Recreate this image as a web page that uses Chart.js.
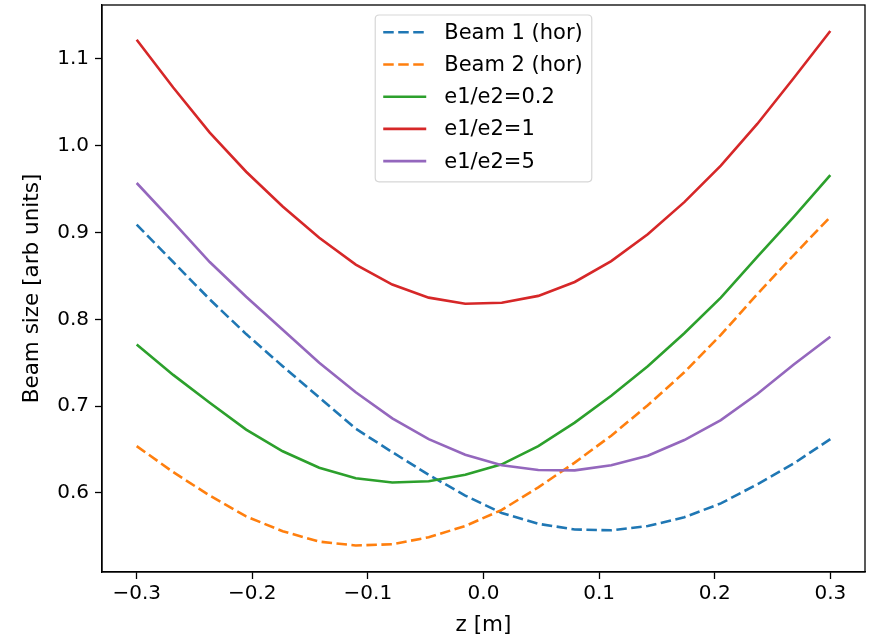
<!DOCTYPE html>
<html>
<head>
<meta charset="utf-8">
<script src="https://cdn.jsdelivr.net/npm/chart.js@4.4.1/dist/chart.umd.min.js"></script>
<style>
  html, body { margin: 0; padding: 0; background: #fff; }
  #wrap { width: 874px; height: 637px; }
</style>
</head>
<body>
<div id="wrap"><canvas id="c" width="874" height="637"></canvas></div>
<script>
// ---- data ----
const zValues = [-0.3, -0.2684, -0.2368, -0.2053, -0.1737, -0.1421, -0.1105, -0.0789, -0.0474, -0.0158,
                 0.0158, 0.0474, 0.0789, 0.1105, 0.1421, 0.1737, 0.2053, 0.2368, 0.2684, 0.3];
const beam1Hor = [0.909, 0.866, 0.823, 0.783, 0.746, 0.710, 0.674, 0.647, 0.621, 0.597,
                  0.577, 0.5645, 0.558, 0.557, 0.562, 0.572, 0.588, 0.610, 0.634, 0.662];
const beam2Hor = [0.654, 0.624, 0.597, 0.573, 0.556, 0.544, 0.5395, 0.541, 0.549, 0.562,
                  0.5805, 0.6065, 0.635, 0.666, 0.701, 0.739, 0.782, 0.829, 0.874, 0.918];
const ratio02 = [0.771, 0.736, 0.704, 0.673, 0.648, 0.629, 0.617, 0.612, 0.6135, 0.621,
                 0.633, 0.654, 0.681, 0.712, 0.746, 0.784, 0.825, 0.872, 0.918, 0.966];
const ratio1 = [1.122, 1.067, 1.015, 0.970, 0.930, 0.894, 0.863, 0.840, 0.825, 0.818,
                0.819, 0.827, 0.843, 0.867, 0.898, 0.935, 0.977, 1.025, 1.078, 1.132];
const ratio5 = [0.957, 0.912, 0.866, 0.826, 0.788, 0.750, 0.716, 0.686, 0.662, 0.644,
                0.632, 0.6265, 0.626, 0.632, 0.643, 0.661, 0.684, 0.714, 0.748, 0.780];
const seriesLabels = ['Beam 1 (hor)', 'Beam 2 (hor)', 'e1/e2=0.2', 'e1/e2=1', 'e1/e2=5'];
const xTickValues = [-0.3, -0.2, -0.1, 0.0, 0.1, 0.2, 0.3];
const xTickLabels = ['\u22120.3', '\u22120.2', '\u22120.1', '0.0', '0.1', '0.2', '0.3'];
const yTickValues = [0.6, 0.7, 0.8, 0.9, 1.0, 1.1];
const yTickLabels = ['0.6', '0.7', '0.8', '0.9', '1.0', '1.1'];
const xTitle = 'z [m]';
const yTitle = 'Beam size [arb units]';

// ---- styling ----
const FONT = "'DejaVu Sans', 'Liberation Sans', sans-serif";
const FS_TICK = 20;
const FS_TITLE = 21.5;
const FS_LEG = 21;
const colors = ['#1f77b4', '#ff7f0e', '#2ca02c', '#d62728', '#9467bd'];
const dashed = [true, true, false, false, false];
const seriesValues = [beam1Hor, beam2Hor, ratio02, ratio1, ratio5];
const LW = 2.6;

const datasets = seriesValues.map((vals, k) => ({
  label: seriesLabels[k],
  data: vals.map((v, i) => ({ x: zValues[i], y: v })),
  borderColor: colors[k],
  backgroundColor: colors[k],
  borderWidth: LW,
  borderDash: dashed[k] ? [10.5, 4.5] : [],
  pointRadius: 0,
  tension: 0,
  fill: false,
  order: seriesValues.length - k
}));

const framePlugin = {
  id: 'frame',
  afterDatasetsDraw(chart) {
    const { ctx, chartArea: a } = chart;
    ctx.save();
    ctx.strokeStyle = '#000';
    ctx.lineWidth = 1.3;
    ctx.strokeRect(a.left, a.top, a.right - a.left, a.bottom - a.top);
    ctx.restore();
  }
};

const innerLegend = {
  id: 'innerLegend',
  afterDraw(chart) {
    const { ctx, chartArea: a } = chart;
    const ds = chart.data.datasets;
    ctx.save();
    ctx.font = FS_LEG + 'px ' + FONT;
    let maxW = 0;
    ds.forEach(d => { maxW = Math.max(maxW, ctx.measureText(d.label).width); });
    const padL = 8, handle = 43, gap = 18, padR = 9;
    const w = padL + handle + gap + maxW + padR;
    const rowH = 32.2, topPad = 17.3, botPad = 20.7;
    const h = topPad + rowH * (ds.length - 1) + botPad;
    const x0 = (a.left + a.right) / 2 - w / 2;
    const y0 = a.top + 10;
    const r = 4;
    ctx.beginPath();
    ctx.moveTo(x0 + r, y0);
    ctx.lineTo(x0 + w - r, y0);
    ctx.quadraticCurveTo(x0 + w, y0, x0 + w, y0 + r);
    ctx.lineTo(x0 + w, y0 + h - r);
    ctx.quadraticCurveTo(x0 + w, y0 + h, x0 + w - r, y0 + h);
    ctx.lineTo(x0 + r, y0 + h);
    ctx.quadraticCurveTo(x0, y0 + h, x0, y0 + h - r);
    ctx.lineTo(x0, y0 + r);
    ctx.quadraticCurveTo(x0, y0, x0 + r, y0);
    ctx.closePath();
    ctx.fillStyle = 'rgba(255,255,255,0.8)';
    ctx.fill();
    ctx.strokeStyle = 'rgba(204,204,204,0.8)';
    ctx.lineWidth = 1.2;
    ctx.stroke();
    ds.forEach((d, i) => {
      const cy = y0 + topPad + i * rowH;
      ctx.beginPath();
      ctx.setLineDash(d.borderDash || []);
      ctx.strokeStyle = d.borderColor;
      ctx.lineWidth = d.borderWidth;
      ctx.moveTo(x0 + padL, cy);
      ctx.lineTo(x0 + padL + handle, cy);
      ctx.stroke();
      ctx.setLineDash([]);
      ctx.fillStyle = '#000';
      ctx.textBaseline = 'middle';
      ctx.textAlign = 'left';
      ctx.fillText(d.label, x0 + padL + handle + gap, cy + 1);
    });
    ctx.restore();
  }
};

new Chart(document.getElementById('c'), {
  type: 'line',
  data: { datasets },
  plugins: [framePlugin, innerLegend],
  options: {
    responsive: false,
    animation: false,
    devicePixelRatio: 1,
    layout: { padding: { left: 0, right: 9, top: 5, bottom: 0 } },
    plugins: { legend: { display: false }, tooltip: { enabled: false } },
    scales: {
      x: {
        type: 'linear',
        min: -0.33, max: 0.33,
        afterBuildTicks: s => { s.ticks = xTickValues.map(v => ({ value: v })); },
        afterFit: s => { s.height = 65; s.paddingLeft = 0; s.paddingRight = 0; },
        ticks: {
          callback: (v, i) => xTickLabels[i],
          font: { family: FONT, size: FS_TICK },
          color: '#000',
          padding: 3,
          maxRotation: 0,
          autoSkip: false
        },
        grid: { drawOnChartArea: false, drawTicks: true, tickLength: 7, tickWidth: 1.3, tickColor: '#000' },
        border: { display: true, color: '#000', width: 1.3 },
        title: { display: true, text: xTitle, font: { family: FONT, size: FS_TITLE, lineHeight: 1.0 }, color: '#000', padding: { top: 0, bottom: 1 } }
      },
      y: {
        type: 'linear',
        min: 0.509, max: 1.162,
        afterBuildTicks: s => { s.ticks = yTickValues.map(v => ({ value: v })); },
        afterFit: s => { s.width = 102; s.paddingTop = 0; s.paddingBottom = 0; },
        ticks: {
          callback: (v, i) => yTickLabels[i],
          font: { family: FONT, size: FS_TICK },
          color: '#000',
          padding: 6,
          autoSkip: false
        },
        grid: { drawOnChartArea: false, drawTicks: true, tickLength: 7, tickWidth: 1.3, tickColor: '#000' },
        border: { display: true, color: '#000', width: 1.3 },
        title: { display: true, text: yTitle, font: { family: FONT, size: FS_TITLE, lineHeight: 1.0 }, color: '#000', padding: { top: 22, bottom: 0 } }
      }
    }
  }
});
</script>
</body>
</html>
